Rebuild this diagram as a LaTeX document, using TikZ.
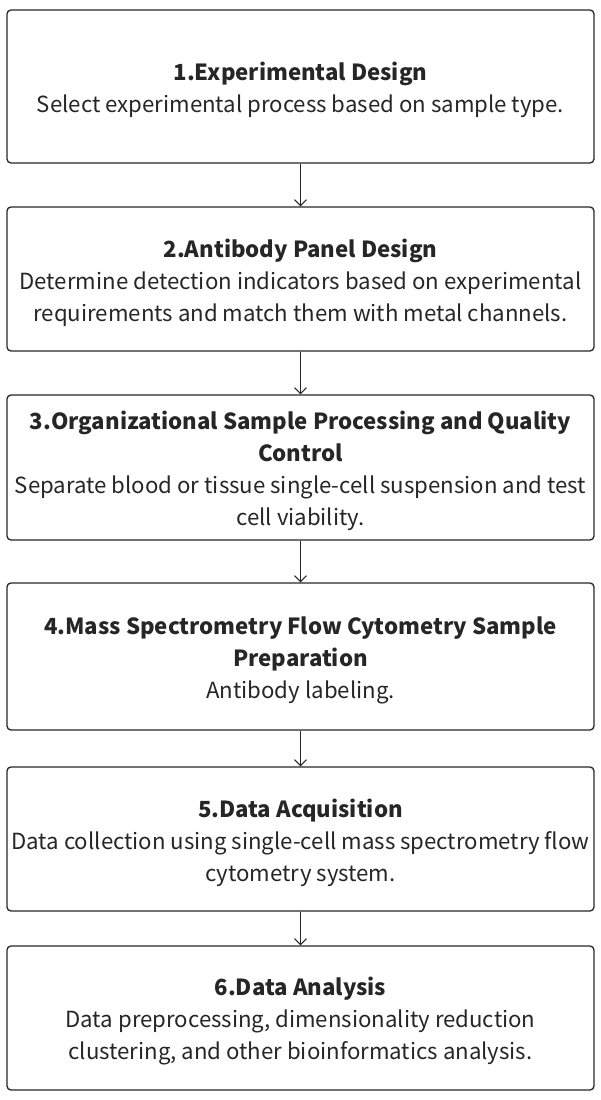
\documentclass[tikz,border=0pt]{standalone}
\usepackage{fontspec}
\setmainfont{Noto Sans CJK SC}
\usetikzlibrary{arrows.meta}
\begin{document}
\begin{tikzpicture}[x=1pt,y=-1pt,
  stepbox/.style={draw=black!85, line width=1.3pt, rounded corners=4pt, minimum width=587pt, inner sep=0pt},
  steptext/.style={align=center, inner sep=0pt, text=black!85, font=\fontsize{22.2}{32}\selectfont},
  conn/.style={draw=black!85, line width=1pt, -{Straight Barb[length=6pt,width=12pt,line width=1pt]}}]
\useasboundingbox (0,0) rectangle (601,1100);
\node[stepbox, minimum height=153pt] (b1) at (300.5,86.5) {};
\node[stepbox, minimum height=144pt] (b2) at (300.5,279) {};
\node[stepbox, minimum height=145pt] (b3) at (300.5,467.5) {};
\node[stepbox, minimum height=147pt] (b4) at (300.5,656.5) {};
\node[stepbox, minimum height=144pt] (b5) at (300.5,839) {};
\node[stepbox, minimum height=144pt] (b6) at (300.5,1018) {};
\node[steptext] (t1) at ([yshift=-3.5pt]b1.center) {\textbf{1.Experimental Design}\\Select experimental process based on sample type.};
\node[steptext] (t2) at ([yshift=-3.5pt]b2.center) {\textbf{2.Antibody Panel Design}\\Determine detection indicators based on experimental\\requirements and match them with metal channels.};
\node[steptext] (t3) at ([yshift=-3pt]b3.center) {\textbf{3.Organizational Sample Processing and Quality}\\\textbf{Control}\\Separate blood or tissue single-cell suspension and test\\cell viability.};
\node[steptext] (t4) at ([yshift=-3.5pt]b4.center) {\textbf{4.Mass Spectrometry Flow Cytometry Sample}\\\textbf{Preparation}\\Antibody labeling.};
\node[steptext] (t5) at ([yshift=-3.5pt]b5.center) {\textbf{5.Data Acquisition}\\Data collection using single-cell mass spectrometry flow\\cytometry system.};
\node[steptext] (t6) at ([yshift=-3.5pt]b6.center) {\textbf{6.Data Analysis}\\Data preprocessing, dimensionality reduction\\clustering, and other bioinformatics analysis.};
\draw[conn] (b1.south) -- (b2.north);
\draw[conn] (b2.south) -- (b3.north);
\draw[conn] (b3.south) -- (b4.north);
\draw[conn] (b4.south) -- (b5.north);
\draw[conn] (b5.south) -- (b6.north);
\end{tikzpicture}
\end{document}
